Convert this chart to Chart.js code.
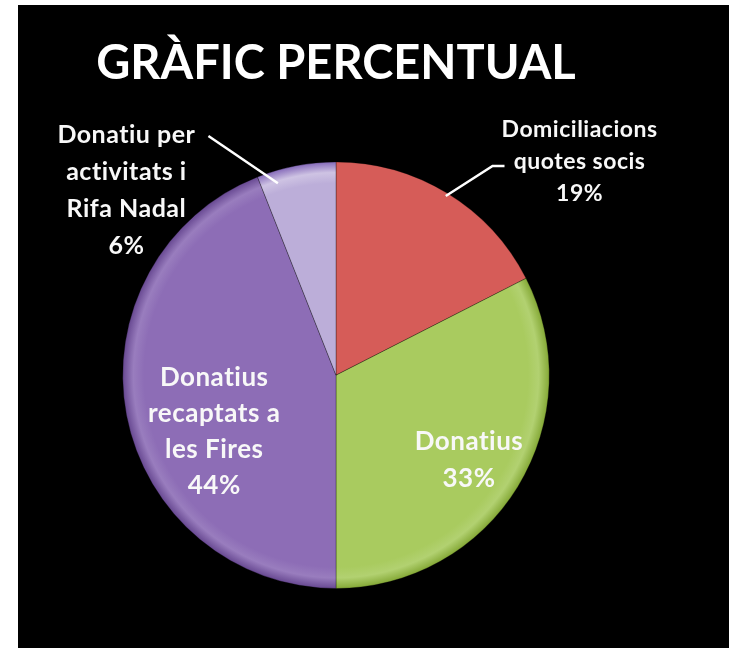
<!DOCTYPE html>
<html>
<head>
<meta charset="utf-8">
<script src="https://cdn.jsdelivr.net/npm/chart.js@4.4.1/dist/chart.umd.min.js"></script>
<style>
  html, body { margin: 0; padding: 0; background: #fff; }
  #pieChart { position: absolute; left: 18px; top: 5px; background: #000; }
</style>
</head>
<body>
<canvas id="pieChart" width="711" height="643"></canvas>
<script>
// Data
const categories = ["Domiciliacions quotes socis", "Donatius", "Donatius recaptats a les Fires", "Donatiu per activitats i Rifa Nadal"];
const values = [17.5, 32.5, 44, 6]; // slice sizes as drawn
const percentLabels = ["19%", "33%", "44%", "6%"]; // as printed on the chart
const labelLines = [
  ["Domiciliacions", "quotes socis"],
  ["Donatius"],
  ["Donatius", "recaptats a", "les Fires"],
  ["Donatiu per", "activitats i", "Rifa Nadal"],
];
const sliceColors = ["#d65c58", "#a9cb5f", "#8d6db6", "#bcaed9"];

// label placement: angle in degrees from 12 o'clock (clockwise), distance in radii
const placements = [
  { angle: 48.7, dist: 1.52, size: 23, lineHeight: 32 },
  { angle: 122.6, dist: 0.74, size: 26, lineHeight: 37 },
  { angle: 245, dist: 0.63, size: 26, lineHeight: 36 },
  { angle: 311.4, dist: 1.31, size: 25, lineHeight: 37 },
];

// leader lines: start on the slice (t along arc, radial fraction), then points relative to center in radii
const leaders = [
  { index: 0, t: 0.5, rf: 0.985, points: [[0.734, -0.981], [0.79, -0.981]] },
  { index: 3, t: 0.22, rf: 0.94, points: [[-0.598, -1.121]] },
];

// soft bevel: flat colour, lighter ring near the rim, darker edge
function bevel(context) {
  const chart = context.chart;
  const arc = chart.getDatasetMeta(0).data[0];
  const base = sliceColors[context.dataIndex];
  if (!arc || !arc.outerRadius) return base;
  const g = chart.ctx.createRadialGradient(arc.x, arc.y, 0, arc.x, arc.y, arc.outerRadius);
  g.addColorStop(0, base);
  g.addColorStop(0.9, base);
  g.addColorStop(0.95, Chart.helpers.color(base).lighten(0.08).rgbString());
  g.addColorStop(1, Chart.helpers.color(base).darken(0.25).rgbString());
  return g;
}

const sliceLabels = {
  id: "sliceLabels",
  afterDatasetsDraw(chart) {
    const ctx = chart.ctx;
    const meta = chart.getDatasetMeta(0);
    const first = meta.data[0];
    const cx = first.x, cy = first.y, r = first.outerRadius;

    ctx.save();
    // leader lines
    ctx.strokeStyle = "#ffffff";
    ctx.lineWidth = 2.5;
    leaders.forEach(l => {
      const arc = meta.data[l.index];
      const a = arc.startAngle + (arc.endAngle - arc.startAngle) * l.t;
      ctx.beginPath();
      ctx.moveTo(cx + Math.cos(a) * r * l.rf, cy + Math.sin(a) * r * l.rf);
      l.points.forEach(p => ctx.lineTo(cx + p[0] * r, cy + p[1] * r));
      ctx.stroke();
    });

    // texts
    ctx.fillStyle = "#f8f8f8";
    ctx.textAlign = "center";
    ctx.textBaseline = "middle";
    ctx.letterSpacing = "0.5px";
    placements.forEach((p, i) => {
      const a = (p.angle - 90) * Math.PI / 180;
      const x = cx + Math.cos(a) * p.dist * r;
      const y = cy + Math.sin(a) * p.dist * r;
      const lines = labelLines[i].concat([percentLabels[i]]);
      ctx.font = "bold " + p.size + "px Lato";
      lines.forEach((t, j) => {
        ctx.fillText(t, x, y + (j - (lines.length - 1) / 2) * p.lineHeight);
      });
    });
    ctx.restore();
  }
};

const ctx_pie = document.getElementById("pieChart").getContext("2d");

const pieChart = new Chart(ctx_pie, {
  type: "pie",
  data: {
    labels: categories,
    datasets: [
      {
        data: values,
        backgroundColor: bevel,
        borderColor: "rgba(0,0,0,0.3)",
        borderWidth: 1,
      },
    ],
  },
  options: {
    responsive: false,
    maintainAspectRatio: false,
    animation: false,
    layout: {
      padding: { left: 0, right: 75, top: 0, bottom: 59 },
    },
    plugins: {
      legend: { display: false },
      tooltip: { enabled: false },
      title: {
        display: true,
        text: "GRÀFIC PERCENTUAL",
        color: "#ffffff",
        font: { family: "Lato", size: 47, weight: "bold" },
        padding: { top: 31, bottom: 69 },
      },
    },
  },
  plugins: [sliceLabels],
});
</script>
</body>
</html>
